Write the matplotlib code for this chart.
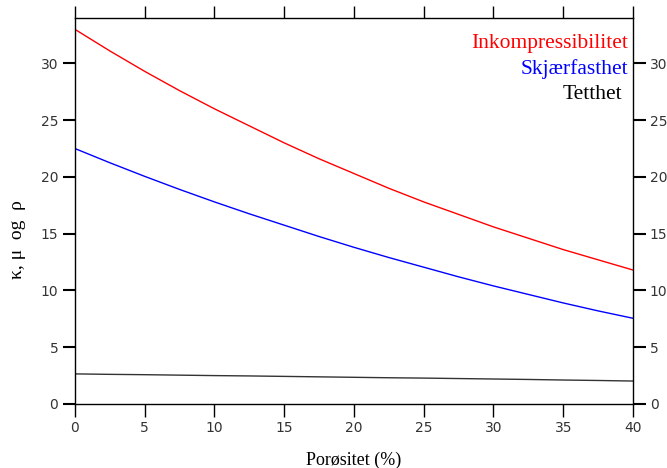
import matplotlib.pyplot as plt
import numpy as np

porositet = [0, 2.5, 5, 7.5, 10, 12.5, 15, 17.5, 20, 22.5, 25, 27.5, 30, 32.5, 35, 37.5, 40]
inkompressibilitet = [33.0, 31.1, 29.3, 27.6, 26.0, 24.5, 23.0, 21.6, 20.3,
                      19.0, 17.8, 16.7, 15.6, 14.6, 13.6, 12.7, 11.8]
skjaerfasthet = [22.5, 21.25, 20.05, 18.9, 17.8, 16.75, 15.75, 14.75, 13.8,
                 12.9, 12.05, 11.2, 10.4, 9.65, 8.9, 8.2, 7.55]
tetthet = [2.65, 2.61, 2.58, 2.54, 2.50, 2.47, 2.43, 2.39, 2.35,
           2.31, 2.28, 2.24, 2.20, 2.16, 2.11, 2.07, 2.02]

xticks = [0, 5, 10, 15, 20, 25, 30, 35, 40]
yticks = [0, 5, 10, 15, 20, 25, 30]

fig = plt.figure(figsize=(6.67, 4.68), dpi=100)
ax = fig.add_axes([0.1124, 0.1368, 0.8366, 0.8247])

ax.plot(porositet, inkompressibilitet, color='red', lw=1)
ax.plot(porositet, skjaerfasthet, color='blue', lw=1)
ax.plot(porositet, tetthet, color='#333333', lw=1)

ax.set_xlim(0, 40)
ax.set_ylim(0, 34)
ax.set_xticks(xticks)
ax.set_yticks(yticks)

ax.tick_params(axis='both', direction='out', length=9, width=1.5,
               labelsize=10, labelcolor='#333333', pad=3)
ax.tick_params(axis='x', top=True, labeltop=False, width=1)
ax.tick_params(axis='y', right=True, labelright=True)
for lab in ax.get_xticklabels() + ax.get_yticklabels():
    lab.set_family('DejaVu Sans')
for s in ax.spines.values():
    s.set_linewidth(1)

ax.set_xlabel('Porøsitet (%)', family='Liberation Serif', fontsize=13, labelpad=12)
ax.set_ylabel('κ, μ  og  ρ', family='Liberation Serif', fontsize=14)
ax.yaxis.set_label_coords(-0.088, 0.425)

ax.text(0.992, 0.935, 'Inkompressibilitet', color='red', ha='right', va='center',
        transform=ax.transAxes, family='Liberation Serif', fontsize=15.5)
ax.text(0.992, 0.868, 'Skjærfasthet', color='blue', ha='right', va='center',
        transform=ax.transAxes, family='Liberation Serif', fontsize=15.5)
ax.text(0.981, 0.803, 'Tetthet', color='black', ha='right', va='center',
        transform=ax.transAxes, family='Liberation Serif', fontsize=15.5)

fig.savefig('out.png', dpi=100)
